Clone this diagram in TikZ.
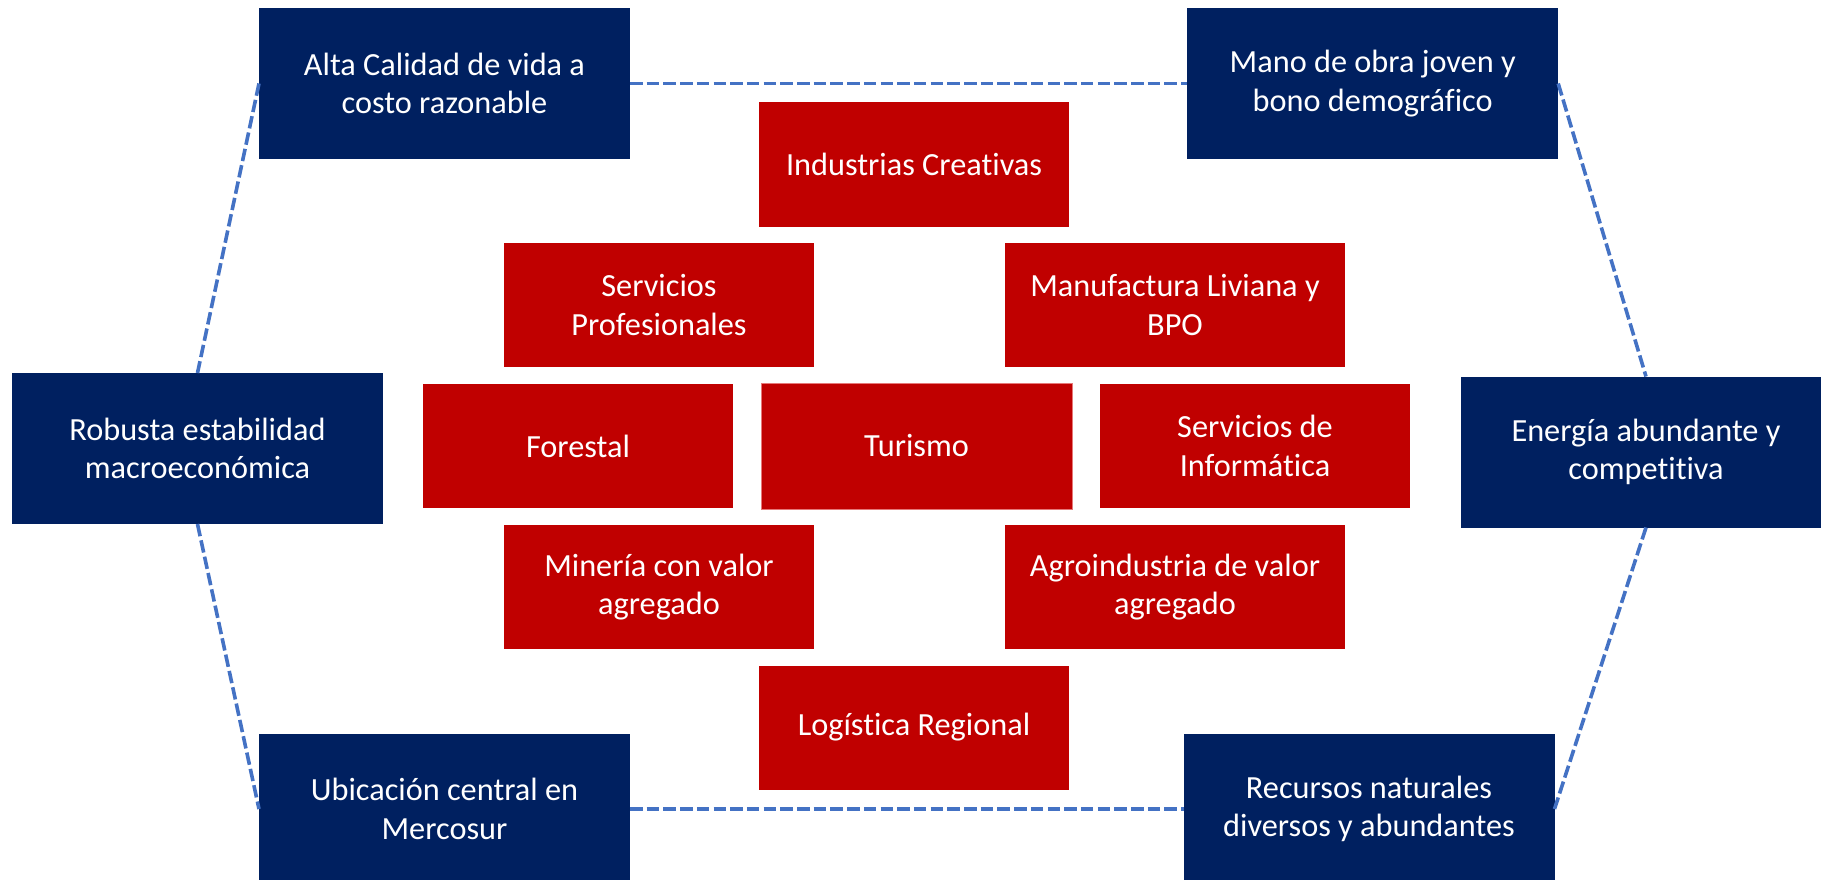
\documentclass[tikz,border=0pt]{standalone}
\usepackage{fontspec}
\setmainfont{Carlito}[Ligatures=NoCommon]
\definecolor{navy}{HTML}{002060}
\definecolor{brick}{HTML}{C00000}
\definecolor{dashblue}{HTML}{4472C4}
\definecolor{pinkedge}{HTML}{E67878}
\begin{document}
\begin{tikzpicture}[x=1pt,y=-1pt,
  base/.style={rectangle,inner sep=0pt,outer sep=0pt,align=center,text=white,
    font=\fontsize{32.3}{38.5}\selectfont},
  bluebox/.style={base,fill=navy,minimum width=371pt,minimum height=151pt},
  redbox/.style={base,fill=brick,minimum width=310pt,minimum height=124pt},
  widered/.style={redbox,minimum width=340pt},
  link/.style={draw=dashblue,line width=3.6pt,dash pattern=on 12.5pt off 4.2pt}]
\useasboundingbox (0,0) rectangle (1821,880);
\clip (0,0) rectangle (1821,880);
% blue boxes
\node[bluebox] (alta) at (444.5,83.5) {Alta Calidad de vida a\\costo razonable};
\node[bluebox] (mano) at (1372.7,83.5) {Mano de obra joven y\\bono demográfico};
\node[bluebox] (robusta) at (197.5,448.5) {Robusta estabilidad\\macroeconómica};
\node[bluebox] (energia) at (1646,452) {Energía abundante y\\competitiva};
\node[bluebox] (ubicacion) at (444.5,809) {Ubicación central en\\Mercosur};
\node[bluebox] (recursos) at (1369,809) {Recursos naturales\\diversos y abundantes};
% red boxes
\node[redbox] (industrias) at (914,164.5) {Industrias Creativas};
\node[redbox] (servprof) at (659,305) {Servicios\\Profesionales};
\node[widered] (manufactura) at (1175,305) {Manufactura Liviana y\\BPO};
\node[redbox] (forestal) at (578,446) {Forestal};
\node[redbox,draw=pinkedge,line width=0.8pt,minimum width=311pt,minimum height=126pt] (turismo) at (916.5,446) {Turismo};
\node[redbox] (servinf) at (1255,446) {Servicios de\\Informática};
\node[redbox] (mineria) at (659,587) {Minería con valor\\agregado};
\node[widered] (agro) at (1175,587) {Agroindustria de valor\\agregado};
\node[redbox] (logistica) at (914,727.5) {Logística Regional};
% dashed connectors
\draw[link] (alta.west) -- (robusta.north);
\draw[link] (alta.east) -- (mano.west);
\draw[link] (mano.east) -- (energia.north);
\draw[link] (robusta.south) -- (ubicacion.west);
\draw[link] (ubicacion.east) -- (recursos.west);
\draw[link] (energia.south) -- (recursos.east);
\end{tikzpicture}
\end{document}
